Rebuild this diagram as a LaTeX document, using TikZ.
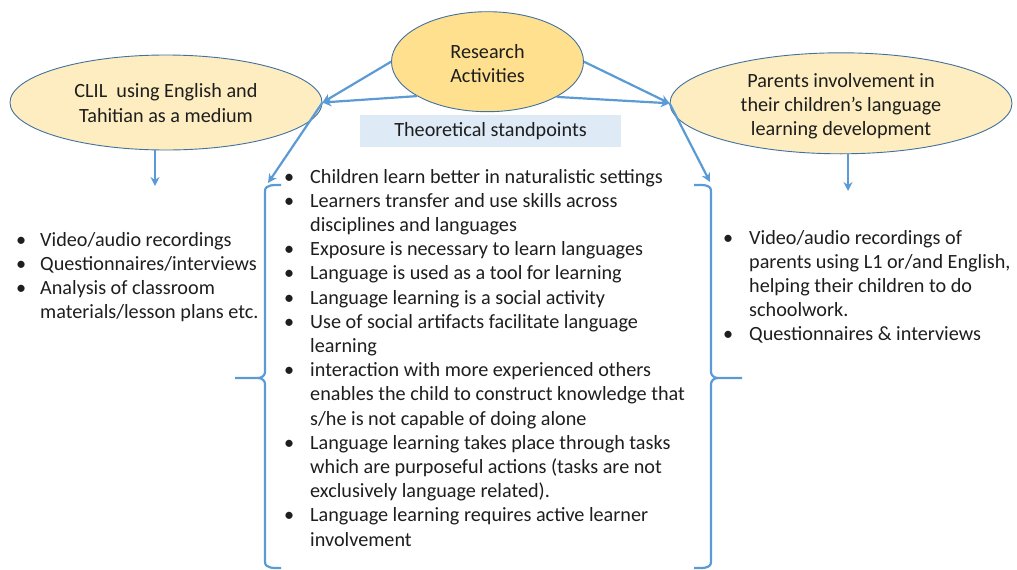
\documentclass[tikz,border=0pt]{standalone}
\usepackage{fontspec}
\setmainfont{Carlito}
\usetikzlibrary{arrows.meta,shapes.geometric}
\definecolor{arrowblue}{HTML}{5B9BD5}
\definecolor{ellborder}{HTML}{41719C}
\definecolor{goldA}{HTML}{FFE08F}
\definecolor{goldB}{HTML}{FDEDC0}
\definecolor{theoryfill}{HTML}{DEEBF7}
\definecolor{textdark}{HTML}{1E1E1E}
\newcommand{\bodyfont}{\fontsize{20.2}{24.2}\selectfont}
\tikzset{
  oval/.style={ellipse, draw=ellborder, line width=0.9pt, inner sep=0pt},
  ovaltext/.style={inner sep=0pt, align=center, text=textdark, font=\bodyfont},
  conn/.style={draw=arrowblue, line width=2.2pt, -{Stealth[length=9pt,width=9pt]}},
  bracket/.style={draw=arrowblue, line width=2.2pt, line join=round},
  listtext/.style={anchor=base west, inner sep=0pt, text=textdark, font=\bodyfont}
}
\begin{document}
\begin{tikzpicture}[x=1pt,y=-1pt]
\useasboundingbox (0,0) rectangle (1017,570);

% ellipses
\node[oval, fill=goldA, minimum width=192pt, minimum height=100pt] (research) at (487.5,61.7) {};
\node[ovaltext] (researchtext) at ([yshift=-1.5pt]research.center) {Research\\Activities};
\node[oval, fill=goldB, minimum width=312pt, minimum height=95pt] (clil) at (166,102.5) {};
\node[ovaltext] (cliltext) at ([yshift=-0.5pt]clil.center) {CLIL\ \ using English and\\Tahitian as a medium};
\node[oval, fill=goldB, minimum width=342pt, minimum height=101pt] (parents) at (841,103.3) {};
\node[ovaltext] (parentstext) at ([yshift=-3pt]parents.center) {Parents involvement in\\their children’s language\\learning development};

% theoretical standpoints header
\node[fill=theoryfill, minimum width=261pt, minimum height=32pt, inner sep=0pt, text=textdark, font=\bodyfont] (theory) at (490.5,131) {Theoretical standpoints};

% brace tops
\coordinate (lbtop) at (268,183);
\coordinate (rbtop) at (710,182);
\coordinate (clilout) at (155,186);
\coordinate (parout) at (848,191);

% connectors
\draw[conn] (research.west) -- (clil.east);
\draw[conn] (research.206) -- (clil.east);
\draw[conn] (clil.east) -- (lbtop);
\draw[conn] (research.east) -- (parents.west);
\draw[conn] (research.333) -- (parents.west);
\draw[conn] (parents.west) -- (rbtop);
\draw[conn] (clilout |- clil.south) -- (clilout);
\draw[conn] (parout |- parents.south) -- (parout);

% left bracket
\draw[bracket] (281,185) to[out=180,in=90] (265,191) -- (265,372) to[out=-90,in=0] (258,378) -- (235,378);
\draw[bracket] (258,378) to[out=0,in=90] (265,384) -- (265,562) to[out=-90,in=180] (281,568);
% right bracket
\draw[bracket] (694,185) to[out=0,in=90] (711,191) -- (711,372) to[out=-90,in=180] (718,378) -- (742,378);
\draw[bracket] (718,378) to[out=180,in=90] (711,384) -- (711,562) to[out=-90,in=0] (694,568);

% left list
\node[listtext] (leftlist) at (16,246) {\begin{tabular}[t]{@{}p{24pt}@{}l@{}}
\textbullet & Video/audio recordings\\
\textbullet & Questionnaires/interviews\\
\textbullet & Analysis of classroom\\
 & materials/lesson plans etc.
\end{tabular}};

% center list
\node[listtext] (standpoints) at (284,183) {\begin{tabular}[t]{@{}p{26pt}@{}l@{}}
\textbullet & Children learn better in naturalistic settings\\
\textbullet & Learners transfer and use skills across\\
 & disciplines and languages\\
\textbullet & Exposure is necessary to learn languages\\
\textbullet & Language is used as a tool for learning\\
\textbullet & Language learning is a social activity\\
\textbullet & Use of social artifacts facilitate language\\
 & learning\\
\textbullet & interaction with more experienced others\\
 & enables the child to construct knowledge that\\
 & s/he is not capable of doing alone\\
\textbullet & Language learning takes place through tasks\\
 & which are purposeful actions (tasks are not\\
 & exclusively language related).\\
\textbullet & Language learning requires active learner\\
 & involvement
\end{tabular}};

% right list
\node[listtext] (rightlist) at (723,244) {\begin{tabular}[t]{@{}p{26pt}@{}l@{}}
\textbullet & Video/audio recordings of\\
 & parents using L1 or/and English,\\
 & helping their children to do\\
 & schoolwork.\\
\textbullet & Questionnaires \& interviews
\end{tabular}};
\end{tikzpicture}
\end{document}
